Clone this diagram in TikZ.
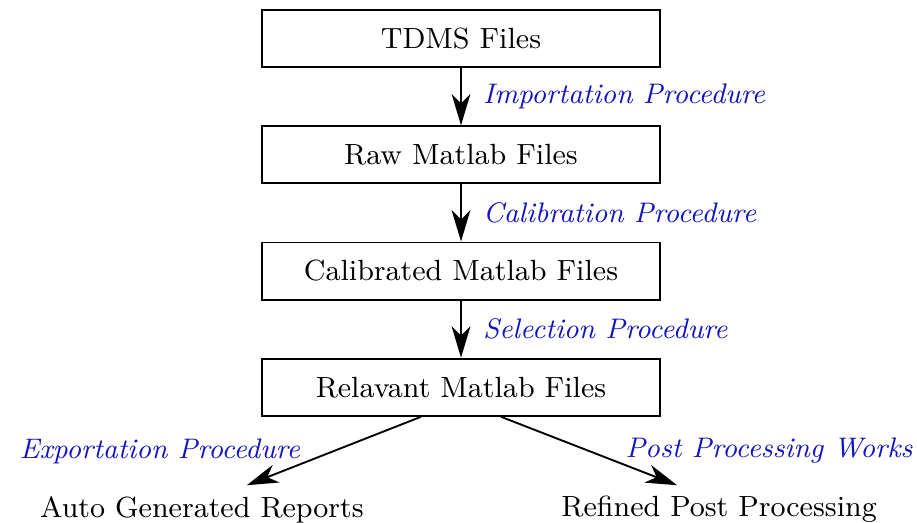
\documentclass[tikz,border=0pt]{standalone}
\usetikzlibrary{positioning,arrows.meta}
\definecolor{procblue}{RGB}{20,20,190}

\begin{document}
\begin{tikzpicture}[auto,node distance=18.2pt,font=\fontsize{9.3}{11}\selectfont,
		file/.style={rectangle,draw,semithick,minimum width=126.8pt,minimum height=18.2pt},
		proc/.style={font=\fontsize{9}{11}\selectfont\itshape,text=procblue},
		marrow/.style={-{Stealth[length=10pt,width=6pt,inset=3pt]},semithick}]
		\useasboundingbox (-146.8pt,12.3pt) rectangle (145.2pt,-154pt);
		\node[file] (tdms) at (0,0) {TDMS Files};
		\node[file] (raw) [below=of tdms] {Raw Matlab Files};
		\node[file] (cal) [below=of raw] {Calibrated Matlab Files};
		\node[file] (rel) [below=of cal] {Relavant Matlab Files};
		\node (reports) [below=21.8pt of rel,xshift=-82.5pt] {Auto Generated Reports};
		\node (refined) [below=21.8pt of rel,xshift=82.2pt] {Refined Post Processing};

		% connection
		\draw [marrow] (tdms) to node [proc,right,xshift=3.4pt] {Importation Procedure} (raw);
		\draw [marrow] (raw) to node [proc,right,xshift=3.4pt] {Calibration Procedure} (cal);
		\draw [marrow] (cal) to node [proc,right,xshift=3.4pt] {Selection Procedure} (rel);

		\draw [marrow] ([xshift=-12.7pt]rel.south) to node [proc,left,xshift=-7.2pt] {Exportation Procedure} ([xshift=14.3pt]reports.north);
		\draw [marrow] ([xshift=12.7pt]rel.south) to node [proc,right,xshift=8pt] {Post Processing Works} ([xshift=-13.4pt]refined.north);
	\end{tikzpicture}
\end{document}
